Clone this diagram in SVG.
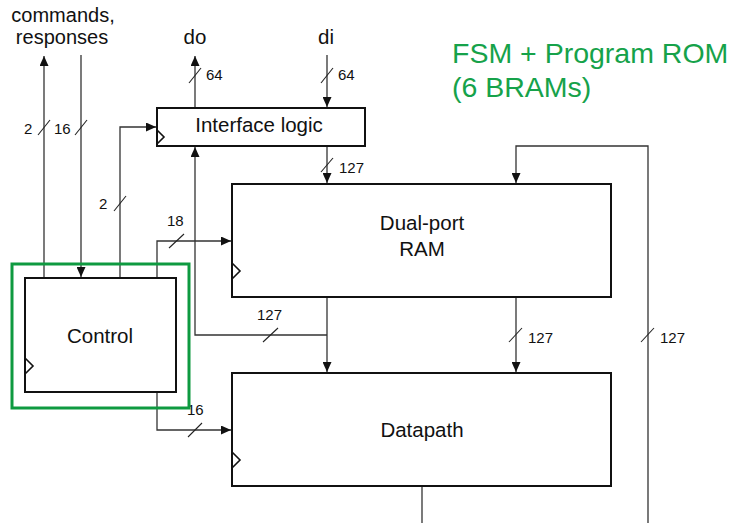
<svg xmlns="http://www.w3.org/2000/svg" width="738" height="523" viewBox="0 0 738 523">
<defs>
<marker id="arr" markerUnits="userSpaceOnUse" markerWidth="10" markerHeight="9" refX="10" refY="4.5" orient="auto">
<path d="M0,0 L10,4.5 L0,9 z" fill="#111"/>
</marker>
<style>
.box{fill:#fff;stroke:#111;stroke-width:2}
.clk{fill:none;stroke:#111;stroke-width:1.6}
.w{fill:none;stroke:#333;stroke-width:1.3}
.sl{stroke:#222;stroke-width:1.1}
.t{font-family:"Liberation Sans",Arial,sans-serif;font-size:20.5px;fill:#111}
.s{font-family:"Liberation Sans",Arial,sans-serif;font-size:15px;fill:#111}
.g{font-family:"Liberation Sans",Arial,sans-serif;font-size:28.5px;fill:#16a24a}
</style>
</defs>
<rect width="738" height="523" fill="#fff"/>

<g id="connectors">
<path class="w" d="M44,278 V56" marker-end="url(#arr)"/>
<path class="w" d="M81,55 V277" marker-end="url(#arr)"/>
<path class="w" d="M120,278 V127 H156" marker-end="url(#arr)"/>
<path class="w" d="M195,108 V56" marker-end="url(#arr)"/>
<path class="w" d="M327,55 V107" marker-end="url(#arr)"/>
<path class="w" d="M327,335 H195 V147" marker-end="url(#arr)"/>
<path class="w" d="M327,297 V372" marker-end="url(#arr)"/>
<path class="w" d="M327,146 V183" marker-end="url(#arr)"/>
<path class="w" d="M157,278 V241 H231" marker-end="url(#arr)"/>
<path class="w" d="M157,392 V430 H231" marker-end="url(#arr)"/>
<path class="w" d="M516,297 V372" marker-end="url(#arr)"/>
<path class="w" d="M648,523 V146 H516 V183" marker-end="url(#arr)"/>
<path class="w" d="M422,486 V523"/>
<g id="slashes">
<line class="sl" x1="38" y1="135" x2="50" y2="120"/>
<line class="sl" x1="75" y1="135" x2="87" y2="120"/>
<line class="sl" x1="189" y1="83" x2="201" y2="68"/>
<line class="sl" x1="321" y1="83" x2="333" y2="68"/>
<line class="sl" x1="114" y1="211" x2="126" y2="196"/>
<line class="sl" x1="169" y1="248" x2="184" y2="234"/>
<line class="sl" x1="321" y1="172" x2="333" y2="158"/>
<line class="sl" x1="263" y1="342" x2="278" y2="328"/>
<line class="sl" x1="509" y1="342" x2="522" y2="328"/>
<line class="sl" x1="641" y1="342" x2="654" y2="328"/>
<line class="sl" x1="188" y1="437" x2="202" y2="423"/>
</g>
</g>

<g id="labels">
<text class="t" x="63" y="22" text-anchor="middle" style="font-size:20px">commands,</text>
<text class="t" x="62" y="44" text-anchor="middle" style="font-size:20px">responses</text>
<text class="t" x="195" y="44" text-anchor="middle">do</text>
<text class="t" x="326" y="44" text-anchor="middle">di</text>
<text class="s" x="206" y="80">64</text>
<text class="s" x="338" y="80">64</text>
<text class="s" x="24" y="134">2</text>
<text class="s" x="54" y="134">16</text>
<text class="s" x="99" y="209">2</text>
<text class="s" x="167" y="226">18</text>
<text class="s" x="339" y="173">127</text>
<text class="s" x="257" y="320">127</text>
<text class="s" x="528" y="343">127</text>
<text class="s" x="660" y="343">127</text>
<text class="s" x="187" y="415">16</text>
<text class="g" x="452" y="63">FSM + Program ROM</text>
<text class="g" x="452" y="97">(6 BRAMs)</text>
</g>

<g id="interface">
<rect class="box" x="157" y="108" width="208" height="38"/>
<path class="clk" d="M157,130 L164,137 L157,144"/>
<text class="t" x="259" y="132" text-anchor="middle">Interface logic</text>
</g>

<g id="ram">
<rect class="box" x="232" y="184" width="379" height="113"/>
<path class="clk" d="M232,263 L240,271 L232,279"/>
<text class="t" x="422" y="230" text-anchor="middle">Dual-port</text>
<text class="t" x="422" y="256" text-anchor="middle">RAM</text>
</g>

<g id="datapath">
<rect class="box" x="232" y="373" width="379" height="113"/>
<path class="clk" d="M232,452 L240,460 L232,468"/>
<text class="t" x="422" y="437" text-anchor="middle">Datapath</text>
</g>

<g id="fsm">
<rect x="12" y="264" width="177" height="144" fill="none" stroke="#0e9a40" stroke-width="3"/>
</g>

<g id="control">
<rect class="box" x="25" y="278" width="151" height="114"/>
<path class="clk" d="M25,358 L33,366 L25,374"/>
<text class="t" x="100" y="343" text-anchor="middle">Control</text>
</g>
</svg>
